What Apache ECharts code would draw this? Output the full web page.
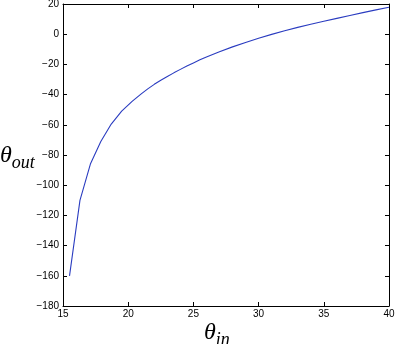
<!DOCTYPE html>
<html><head><meta charset="utf-8">
<script src="https://cdn.jsdelivr.net/npm/echarts@6/dist/echarts.min.js"></script>
<style>html,body{margin:0;padding:0;background:#fff}#c{width:395px;height:344px}</style>
</head><body><div id="c"></div>
<script>
const thetaIn  = [15.5, 16.3, 17.1, 17.9, 18.7, 19.5, 20.3, 21, 21.5, 22, 22.5, 23, 23.5, 24, 24.5, 25, 25.5, 26, 27, 28, 29, 30, 31, 32, 33, 34, 35, 36, 37, 38, 39, 40];
const thetaOut = [-160, -110, -86, -71, -59.5, -51, -44.5, -39.5, -36.2, -33.2, -30.5, -28, -25.6, -23.3, -21.1, -19, -17, -15.1, -11.6, -8.4, -5.5, -2.7, -0.1, 2.3, 4.5, 6.6, 8.6, 10.5, 12.4, 14.3, 16.1, 17.9];
const xTicks = {min: 15, max: 40, interval: 5};
const yTicks = {min: -180, max: 20, interval: 20};
const xTitle = '{t|θ}{s|in}';
const yTitle = '{t|θ}{s|out}';

const chart = echarts.init(document.getElementById('c'), null, {renderer: 'canvas'});
const lblFont = {color: '#000', fontFamily: 'Liberation Sans, Arial, sans-serif', fontSize: 10};
const lineBlack = {show: true, onZero: false, lineStyle: {color: '#000', width: 1}};
const tickIn = {show: true, inside: true, length: 4, lineStyle: {color: '#000', width: 1}};
const nameRich = {
  t: {fontFamily: 'Liberation Serif', fontStyle: 'italic', fontSize: 24, fill: '#000', color: '#000', verticalAlign: 'bottom', padding: [0, 0, 4, 0]},
  s: {fontFamily: 'Liberation Serif', fontStyle: 'italic', fontSize: 18, fill: '#000', color: '#000', verticalAlign: 'bottom'}
};
chart.setOption({
  animation: false,
  grid: {left: 63, right: 6, top: 4, bottom: 38, containLabel: false, outerBoundsMode: 'none'},
  xAxis: [{
    type: 'value', min: xTicks.min, max: xTicks.max, interval: xTicks.interval,
    axisLine: lineBlack, axisTick: tickIn, splitLine: {show: false},
    axisLabel: Object.assign({margin: 3}, lblFont)
  }, {
    type: 'value', position: 'top', min: xTicks.min, max: xTicks.max, interval: xTicks.interval,
    axisLine: lineBlack, axisTick: tickIn, axisLabel: {show: false}, splitLine: {show: false}
  }],
  yAxis: [{
    type: 'value', min: yTicks.min, max: yTicks.max, interval: yTicks.interval,
    axisLine: lineBlack, axisTick: tickIn, splitLine: {show: false},
    axisLabel: Object.assign({margin: 4, formatter: v => String(v).replace('-', '\u2212')}, lblFont)
  }, {
    type: 'value', position: 'right', min: yTicks.min, max: yTicks.max, interval: yTicks.interval,
    axisLine: lineBlack, axisTick: tickIn, axisLabel: {show: false}, splitLine: {show: false}
  }],
  graphic: [
    {type: 'text', left: 0, top: 144, style: {text: yTitle, rich: nameRich}},
    {type: 'text', left: 204, top: 321, style: {text: xTitle, rich: nameRich}}
  ],
  series: [{
    type: 'line', xAxisIndex: 0, yAxisIndex: 0, showSymbol: false, smooth: false,
    lineStyle: {color: '#2a3cc0', width: 1.1},
    data: thetaIn.map((x, i) => [x, thetaOut[i]])
  }]
});
</script></body></html>
